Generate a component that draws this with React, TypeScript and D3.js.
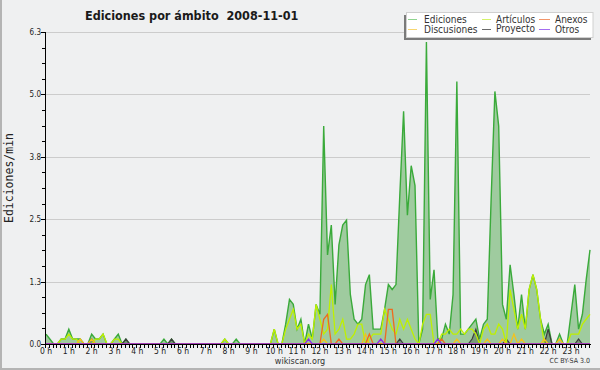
import React from 'react';
import * as d3 from 'd3';

const W = 600;
const H = 370;

const title = 'Ediciones por ámbito\u00a0\u00a02008-11-01';
const yTitle = 'Ediciones/min';
const hourLabels = d3.range(24).map((h) => `${h} h`);
const yTickValues = [0, 1.26, 2.52, 3.78, 5.04, 6.3];
const yTickLabels = ['0.0', '1.3', '2.5', '3.8', '5.0', '6.3'];

// 10-minute bins (144 per day), edits per minute
const ediciones = [
  0.2, 0.1, 0, 0, 0.1, 0.1, 0.3, 0.1, 0.1, 0.1, 0, 0,
  0.2, 0.1, 0.1, 0.2, 0, 0, 0.1, 0.2, 0, 0.1, 0, 0,
  0, 0, 0, 0, 0, 0, 0, 0.1, 0, 0.1, 0, 0,
  0, 0, 0, 0, 0, 0, 0, 0, 0, 0, 0, 0.1,
  0, 0, 0.1, 0, 0, 0, 0, 0, 0, 0, 0, 0,
  0.3, 0, 0, 0.4, 0.9, 0.8, 0.3, 0.5, 0, 0.4, 0.1, 0.8,
  0.6, 4.4, 1.8, 2.4, 0.8, 2.0, 2.4, 2.5, 1.0, 0.5, 0.4, 0.5,
  1.2, 1.4, 0.3, 0.3, 0.3, 0.7, 1.2, 1.1, 1.2, 3.0, 4.7, 2.6,
  3.6, 3.2, 0, 0.3, 6.1, 0.9, 1.5, 0.1, 0.1, 0.4, 0.2, 1.0,
  5.3, 0.2, 0.2, 0.3, 0.4, 0.5, 0.1, 0.4, 0.5, 2.9, 5.1, 4.4,
  0.8, 0.5, 1.6, 1.0, 0.3, 1.0, 0.3, 1.1, 1.4, 1.1, 0.5, 0.2,
  0.4, 0, 0, 0.2, 0, 0, 0.6, 1.2, 0.3, 0.6, 1.3, 1.9,
];

const articulos = [
  0, 0, 0, 0, 0.1, 0.1, 0.2, 0.1, 0.1, 0, 0, 0,
  0, 0.1, 0.1, 0.2, 0, 0, 0.1, 0.1, 0, 0, 0, 0,
  0, 0, 0, 0, 0, 0, 0, 0, 0, 0, 0, 0,
  0, 0, 0, 0, 0, 0, 0, 0, 0, 0, 0, 0.1,
  0, 0, 0, 0, 0, 0, 0, 0, 0, 0, 0, 0,
  0.3, 0, 0, 0.3, 0.5, 0.7, 0.3, 0.4, 0, 0.2, 0.1, 0.8,
  0.5, 0.2, 0.3, 1.2, 0.2, 0.3, 0.5, 0.1, 0.1, 0.2, 0.4, 0.4,
  0, 0.1, 0.2, 0.2, 0.2, 0.7, 0.5, 0.3, 0.2, 0.5, 0.3, 0.5,
  0.3, 0.1, 0, 0.4, 0.6, 0.6, 0, 0, 0.2, 0.2, 0.3, 0.2,
  0.2, 0.3, 0.2, 0.3, 0.3, 0.2, 0, 0.3, 0.4, 0.2, 0.2, 0.4,
  0.3, 0, 1.1, 0.7, 0.3, 0.6, 0.3, 1.1, 1.4, 1.1, 0.5, 0,
  0, 0, 0, 0, 0, 0, 0.2, 0.2, 0.2, 0.4, 0.5, 0.6,
];

const anexos = [
  0, 0, 0, 0, 0, 0, 0, 0, 0, 0, 0, 0,
  0, 0, 0, 0, 0, 0, 0, 0, 0, 0, 0, 0,
  0, 0, 0, 0, 0, 0, 0, 0, 0, 0, 0, 0,
  0, 0, 0, 0, 0, 0, 0, 0, 0, 0, 0, 0,
  0, 0, 0, 0, 0, 0, 0, 0, 0, 0, 0, 0,
  0, 0, 0, 0, 0, 0, 0, 0, 0, 0, 0, 0,
  0, 0.5, 0.6, 0, 0, 0.1, 0, 0, 0, 0, 0, 0,
  0, 0.2, 0, 0, 0, 0, 0.7, 0.7, 0, 0, 0, 0,
  0, 0, 0, 0, 0, 0, 0, 0, 0.1, 0, 0, 0,
  0, 0, 0, 0, 0, 0, 0, 0, 0, 0, 0, 0,
  0, 0, 0, 0, 0, 0, 0, 0, 0, 0, 0, 0,
  0, 0, 0, 0, 0, 0, 0, 0, 0, 0, 0, 0,
];

const discusiones = [
  0, 0, 0, 0, 0, 0, 0, 0, 0, 0.1, 0, 0,
  0.1, 0, 0, 0, 0, 0, 0, 0, 0, 0, 0, 0,
  0, 0, 0, 0, 0, 0, 0, 0, 0, 0, 0, 0,
  0, 0, 0, 0, 0, 0, 0, 0, 0, 0, 0, 0,
  0, 0, 0, 0, 0, 0, 0, 0, 0, 0, 0, 0,
  0, 0, 0, 0, 0, 0, 0, 0, 0, 0, 0, 0,
  0, 0.1, 0, 0, 0, 0, 0, 0, 0, 0, 0, 0,
  0.2, 0, 0, 0, 0, 0, 0, 0, 0, 0, 0, 0,
  0, 0, 0, 0, 0, 0, 0, 0, 0, 0, 0, 0,
  0.1, 0, 0, 0, 0, 0, 0, 0, 0.1, 0, 0, 0,
  0.1, 0, 0, 0.2, 0, 0.1, 0, 0, 0, 0, 0, 0.1,
  0, 0, 0, 0.1, 0, 0, 0, 0, 0, 0, 0, 0,
];

const proyecto = [
  0, 0, 0, 0, 0, 0, 0, 0, 0, 0, 0, 0,
  0.1, 0, 0, 0, 0, 0, 0, 0, 0, 0.1, 0, 0,
  0, 0, 0, 0, 0, 0, 0, 0, 0, 0.1, 0, 0,
  0, 0, 0, 0, 0, 0, 0, 0, 0, 0, 0, 0,
  0, 0, 0, 0, 0, 0, 0, 0, 0, 0, 0, 0,
  0, 0, 0, 0, 0, 0, 0, 0, 0, 0, 0, 0,
  0, 0, 0, 0, 0, 0, 0, 0, 0, 0, 0, 0,
  0, 0, 0, 0, 0, 0, 0, 0, 0, 0.1, 0, 0,
  0, 0, 0, 0, 0, 0, 0, 0, 0, 0, 0, 0,
  0, 0, 0, 0, 0.1, 0.3, 0, 0, 0, 0, 0, 0,
  0, 0.1, 0, 0, 0, 0, 0, 0, 0, 0, 0, 0,
  0.3, 0, 0, 0, 0, 0, 0, 0, 0.1, 0, 0, 0,
];

const otros = [
  0, 0, 0, 0, 0, 0, 0, 0, 0, 0, 0, 0,
  0, 0, 0, 0, 0, 0, 0, 0, 0, 0, 0, 0,
  0, 0, 0, 0, 0, 0, 0, 0, 0, 0, 0, 0,
  0, 0, 0, 0, 0, 0, 0, 0, 0, 0, 0, 0,
  0, 0, 0, 0, 0, 0, 0, 0, 0, 0, 0, 0,
  0, 0, 0, 0, 0, 0, 0, 0, 0, 0.1, 0, 0,
  0, 0, 0, 0, 0, 0, 0, 0, 0, 0, 0, 0,
  0, 0, 0, 0, 0.1, 0, 0, 0, 0, 0, 0, 0,
  0, 0, 0, 0, 0, 0, 0, 0.1, 0, 0, 0, 0,
  0, 0, 0, 0, 0, 0, 0, 0, 0, 0, 0, 0,
  0, 0, 0, 0, 0, 0, 0, 0, 0, 0, 0, 0,
  0, 0, 0, 0, 0, 0, 0, 0, 0, 0, 0, 0,
];

const seriesNames = ['Ediciones', 'Artículos', 'Anexos', 'Discusiones', 'Proyecto', 'Otros'];

const FONT = "'DejaVu Sans Condensed', 'DejaVu Sans', sans-serif";
const MONO = "'DejaVu Sans Mono', monospace";

export default function App() {
  const left = 46;
  const right = 590;
  const top = 32;
  const bottom = 344;
  const n = ediciones.length;

  const x = d3.scaleLinear().domain([0, n - 1]).range([left, right]);
  const y = d3.scaleLinear().domain([0, 6.3]).range([bottom, top]);

  const line = d3
    .line<number>()
    .x((_, i) => x(i))
    .y((d) => y(d));
  const area = d3
    .area<number>()
    .x((_, i) => x(i))
    .y0(y(0))
    .y1((d) => y(d));

  const series = [
    { name: seriesNames[0], data: ediciones, color: '#3aaa3a', legend: '#8fd48f', fill: '#9fcb9f', width: 1.4 },
    { name: seriesNames[1], data: articulos, color: '#bff000', legend: '#d4f26a', fill: null, width: 1.3 },
    { name: seriesNames[2], data: anexos, color: '#f06a1e', legend: '#f2956a', fill: null, width: 1.3 },
    { name: seriesNames[3], data: discusiones, color: '#f5c21b', legend: '#f7d670', fill: null, width: 1.3 },
    { name: seriesNames[4], data: proyecto, color: '#3c3c3c', legend: '#6a6a6a', fill: 'rgba(50,60,50,0.35)', width: 1.2 },
    { name: seriesNames[5], data: otros, color: '#8a2be8', legend: '#a46ef0', fill: null, width: 1.3 },
  ];

  const drawOrder = [0, 4, 1, 3, 2, 5];

  const minorY = d3.range(0, 21).map((k) => (6.3 * k) / 20);

  const legendCols = [
    { lx1: 408, lx2: 417, tx: 424 },
    { lx1: 482, lx2: 491, tx: 496 },
    { lx1: 539, lx2: 550, tx: 555 },
  ];
  const legendRows = [
    { ly: 19.5, ty: 22.5 },
    { ly: 29.5, ty: 32.5 },
  ];
  const legendOrder = [0, 1, 2, 3, 4, 5];

  return (
    <svg width={W} height={H} style={{ display: 'block', position: 'absolute', left: 0, top: 0 }}>
      <rect x={0} y={0} width={W} height={H} fill="#eff0f1" />
      <line x1={1} y1={0} x2={1} y2={H} stroke="#b4b4b4" strokeWidth={2} />
      <line x1={0} y1={H - 1} x2={W} y2={H - 1} stroke="#b4b4b4" strokeWidth={2} />

      {/* grid */}
      {yTickValues.map((v, k) => (
        <line key={`g${k}`} x1={left} x2={right} y1={Math.round(y(v)) + 0.5} y2={Math.round(y(v)) + 0.5} stroke="#cccccc" strokeWidth={1} />
      ))}

      {/* series */}
      {drawOrder.map((si) => {
        const s = series[si];
        return (
          <g key={s.name}>
            {s.fill && <path d={area(s.data) || ''} fill={s.fill} stroke="none" />}
            <path d={line(s.data) || ''} fill="none" stroke={s.color} strokeWidth={s.width} strokeLinejoin="miter" />
          </g>
        );
      })}

      {/* axes */}
      <line x1={left - 0.5} x2={left - 0.5} y1={top} y2={bottom + 1} stroke="#000" strokeWidth={1} />
      <line x1={left - 1} x2={right + 1} y1={bottom + 0.5} y2={bottom + 0.5} stroke="#000" strokeWidth={1} />
      {minorY.map((v, k) => (
        <line key={`my${k}`} x1={k % 4 === 0 ? left - 5 : left - 4} x2={left - 0.5} y1={Math.round(y(v)) + 0.5} y2={Math.round(y(v)) + 0.5} stroke="#000" strokeWidth={1} />
      ))}
      {yTickValues.map((v, k) => (
        <text key={`yl${k}`} x={left - 5} y={y(v) + 3} textAnchor="end" fontFamily={FONT} fontSize={8} fill="#222">
          {yTickLabels[k]}
        </text>
      ))}
      {d3.range(n).map((i) => (
        <line key={`xt${i}`} x1={Math.round(x(i)) - 0.5} x2={Math.round(x(i)) - 0.5} y1={bottom + 1} y2={bottom + 4} stroke="#000" strokeWidth={1} />
      ))}
      {hourLabels.map((lab, h) => (
        <text key={`xl${h}`} x={x(h * 6)} y={354} textAnchor="middle" fontFamily={FONT} fontSize={8.5} fill="#222">
          {lab}
        </text>
      ))}

      {/* titles */}
      <text x={85} y={20} fontFamily={FONT} fontSize={12.5} fontWeight="bold" fill="#1a1a1a">
        {title}
      </text>
      <text transform={`translate(13,${(top + bottom) / 2 - 10}) rotate(-90)`} textAnchor="middle" fontFamily={MONO} fontSize={11.5} fill="#222">
        {yTitle}
      </text>
      <text x={300} y={364} textAnchor="middle" fontFamily={FONT} fontSize={9} fill="#333">
        wikiscan.org
      </text>
      <text x={590} y={363} textAnchor="end" fontFamily={FONT} fontSize={7} fill="#333">
        CC BY-SA 3.0
      </text>

      {/* legend */}
      <rect x={404} y={15} width={187} height={25} fill="#7a7a7a" />
      <rect x={406.5} y={12.5} width={186.5} height={25} fill="#ffffff" stroke="#d0d0d0" strokeWidth={1} />
      {legendOrder.map((si, k) => {
        const c = legendCols[k % 3];
        const r = legendRows[Math.floor(k / 3)];
        const s = series[si];
        const ty = s.name === 'Proyecto' ? r.ty - 1 : r.ty;
        return (
          <g key={`lg${k}`}>
            <line x1={c.lx1} x2={c.lx2} y1={r.ly} y2={r.ly} stroke={s.legend} strokeWidth={1} />
            <text x={c.tx} y={ty} fontFamily={FONT} fontSize={10} fill="#333">
              {s.name}
            </text>
          </g>
        );
      })}
    </svg>
  );
}
